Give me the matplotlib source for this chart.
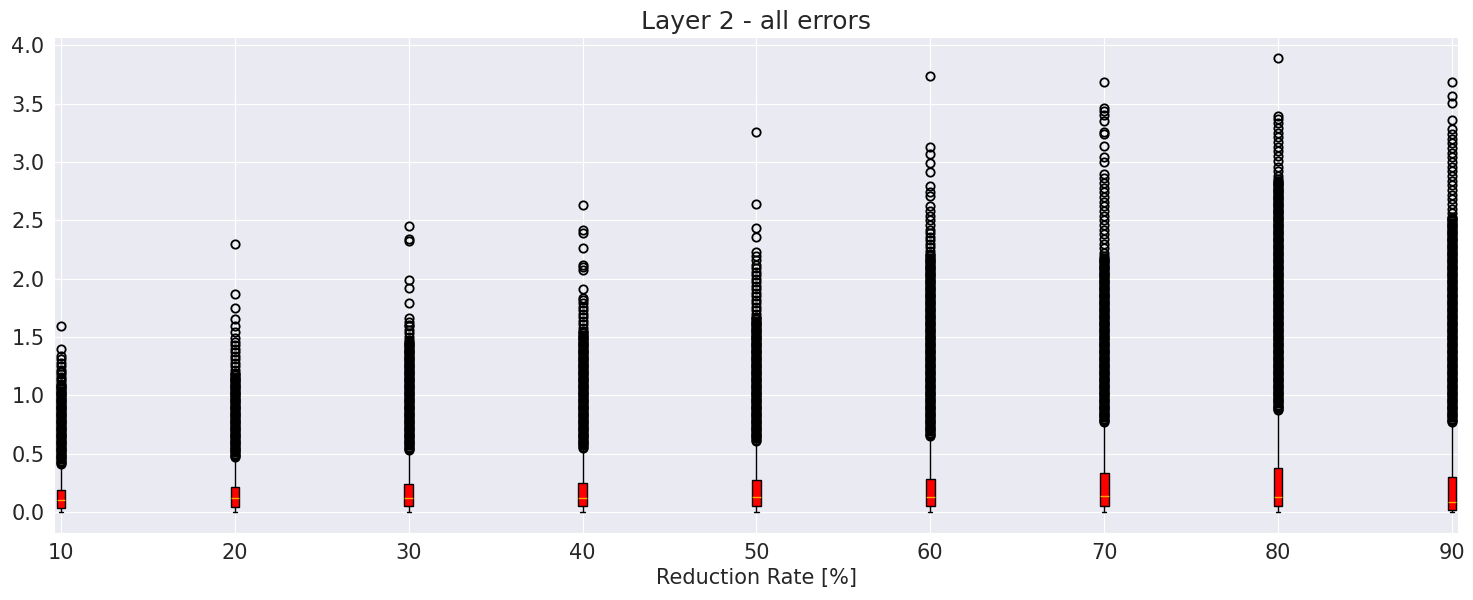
import matplotlib
matplotlib.use('Agg')
import matplotlib.pyplot as plt
import seaborn as sns

# ----------------------------
# Data
# ----------------------------
rates = [10, 20, 30, 40, 50, 60, 70, 80, 90]
q1 = [0.036, 0.040, 0.051, 0.046, 0.050, 0.051, 0.050, 0.051, 0.015]
medians = [0.10, 0.117, 0.12, 0.117, 0.126, 0.126, 0.137, 0.131, 0.08]
q3 = [0.185, 0.21, 0.24, 0.245, 0.27, 0.28, 0.33, 0.374, 0.30]
whis_lo = [0.0, 0.0, 0.0, 0.0, 0.0, 0.0, 0.0, 0.0, 0.0]
whis_hi = [0.40, 0.46, 0.52, 0.54, 0.60, 0.64, 0.76, 0.86, 0.76]

# fliers: the solid black bands are outliers at (about) every hundredth
fliers_10 = [0.41, 0.42, 0.43, 0.44, 0.45, 0.46, 0.47, 0.48, 0.49,
             0.50, 0.51, 0.52, 0.53, 0.54, 0.55, 0.56, 0.57, 0.58, 0.59,
             0.60, 0.61, 0.62, 0.63, 0.64, 0.65, 0.66, 0.67, 0.68, 0.69,
             0.70, 0.71, 0.72, 0.73, 0.74, 0.75, 0.76, 0.77, 0.78, 0.79,
             0.80, 0.81, 0.82, 0.83, 0.84, 0.85, 0.86, 0.87, 0.88, 0.89,
             0.90, 0.91, 0.92, 0.93, 0.94, 0.95, 0.96, 0.97, 0.98, 0.99,
             1.00, 1.01, 1.02, 1.03, 1.04, 1.05, 1.06, 1.07, 1.08, 1.09,
             1.10, 1.12, 1.14, 1.16, 1.18, 1.20, 1.22, 1.25, 1.28, 1.31,
             1.34, 1.40, 1.59]
fliers_20 = [0.47, 0.48, 0.49,
             0.50, 0.51, 0.52, 0.53, 0.54, 0.55, 0.56, 0.57, 0.58, 0.59,
             0.60, 0.61, 0.62, 0.63, 0.64, 0.65, 0.66, 0.67, 0.68, 0.69,
             0.70, 0.71, 0.72, 0.73, 0.74, 0.75, 0.76, 0.77, 0.78, 0.79,
             0.80, 0.81, 0.82, 0.83, 0.84, 0.85, 0.86, 0.87, 0.88, 0.89,
             0.90, 0.91, 0.92, 0.93, 0.94, 0.95, 0.96, 0.97, 0.98, 0.99,
             1.00, 1.01, 1.02, 1.03, 1.04, 1.05, 1.06, 1.07, 1.08, 1.09,
             1.10, 1.11, 1.12, 1.13, 1.14, 1.15, 1.16, 1.17, 1.18, 1.19,
             1.22, 1.25, 1.28, 1.31, 1.34, 1.37, 1.40, 1.43, 1.46, 1.49,
             1.54, 1.59, 1.65, 1.75, 1.87, 2.30]
fliers_30 = [0.53, 0.54, 0.55, 0.56, 0.57, 0.58, 0.59,
             0.60, 0.61, 0.62, 0.63, 0.64, 0.65, 0.66, 0.67, 0.68, 0.69,
             0.70, 0.71, 0.72, 0.73, 0.74, 0.75, 0.76, 0.77, 0.78, 0.79,
             0.80, 0.81, 0.82, 0.83, 0.84, 0.85, 0.86, 0.87, 0.88, 0.89,
             0.90, 0.91, 0.92, 0.93, 0.94, 0.95, 0.96, 0.97, 0.98, 0.99,
             1.00, 1.01, 1.02, 1.03, 1.04, 1.05, 1.06, 1.07, 1.08, 1.09,
             1.10, 1.11, 1.12, 1.13, 1.14, 1.15, 1.16, 1.17, 1.18, 1.19,
             1.20, 1.21, 1.22, 1.23, 1.24, 1.25, 1.26, 1.27, 1.28, 1.29,
             1.30, 1.31, 1.32, 1.33, 1.34, 1.35, 1.36, 1.37, 1.38, 1.39,
             1.40, 1.41, 1.42, 1.43, 1.44, 1.45, 1.46, 1.47,
             1.50, 1.53, 1.56, 1.59, 1.60, 1.63, 1.66, 1.79, 1.92, 1.99,
             2.32, 2.34, 2.45]
fliers_40 = [0.55, 0.56, 0.57, 0.58, 0.59,
             0.60, 0.61, 0.62, 0.63, 0.64, 0.65, 0.66, 0.67, 0.68, 0.69,
             0.70, 0.71, 0.72, 0.73, 0.74, 0.75, 0.76, 0.77, 0.78, 0.79,
             0.80, 0.81, 0.82, 0.83, 0.84, 0.85, 0.86, 0.87, 0.88, 0.89,
             0.90, 0.91, 0.92, 0.93, 0.94, 0.95, 0.96, 0.97, 0.98, 0.99,
             1.00, 1.01, 1.02, 1.03, 1.04, 1.05, 1.06, 1.07, 1.08, 1.09,
             1.10, 1.11, 1.12, 1.13, 1.14, 1.15, 1.16, 1.17, 1.18, 1.19,
             1.20, 1.21, 1.22, 1.23, 1.24, 1.25, 1.26, 1.27, 1.28, 1.29,
             1.30, 1.31, 1.32, 1.33, 1.34, 1.35, 1.36, 1.37, 1.38, 1.39,
             1.40, 1.41, 1.42, 1.43, 1.44, 1.45, 1.46, 1.47, 1.48, 1.49,
             1.50, 1.51, 1.52, 1.53, 1.54, 1.55,
             1.58, 1.61, 1.64, 1.67, 1.70, 1.73, 1.76, 1.79, 1.82, 1.83,
             1.91, 2.07, 2.10, 2.12, 2.26, 2.39, 2.42, 2.63]
fliers_50 = [0.61, 0.62, 0.63, 0.64, 0.65, 0.66, 0.67, 0.68, 0.69,
             0.70, 0.71, 0.72, 0.73, 0.74, 0.75, 0.76, 0.77, 0.78, 0.79,
             0.80, 0.81, 0.82, 0.83, 0.84, 0.85, 0.86, 0.87, 0.88, 0.89,
             0.90, 0.91, 0.92, 0.93, 0.94, 0.95, 0.96, 0.97, 0.98, 0.99,
             1.00, 1.01, 1.02, 1.03, 1.04, 1.05, 1.06, 1.07, 1.08, 1.09,
             1.10, 1.11, 1.12, 1.13, 1.14, 1.15, 1.16, 1.17, 1.18, 1.19,
             1.20, 1.21, 1.22, 1.23, 1.24, 1.25, 1.26, 1.27, 1.28, 1.29,
             1.30, 1.31, 1.32, 1.33, 1.34, 1.35, 1.36, 1.37, 1.38, 1.39,
             1.40, 1.41, 1.42, 1.43, 1.44, 1.45, 1.46, 1.47, 1.48, 1.49,
             1.50, 1.51, 1.52, 1.53, 1.54, 1.55, 1.56, 1.57, 1.58, 1.59,
             1.60, 1.61, 1.62, 1.63, 1.64, 1.65, 1.66, 1.67,
             1.70, 1.73, 1.76, 1.79, 1.82, 1.85, 1.88, 1.91, 1.94, 1.97,
             2.00, 2.03, 2.06, 2.09, 2.12, 2.16, 2.19, 2.23, 2.36, 2.43,
             2.64, 3.26]
fliers_60 = [0.65, 0.66, 0.67, 0.68, 0.69,
             0.70, 0.71, 0.72, 0.73, 0.74, 0.75, 0.76, 0.77, 0.78, 0.79,
             0.80, 0.81, 0.82, 0.83, 0.84, 0.85, 0.86, 0.87, 0.88, 0.89,
             0.90, 0.91, 0.92, 0.93, 0.94, 0.95, 0.96, 0.97, 0.98, 0.99,
             1.00, 1.01, 1.02, 1.03, 1.04, 1.05, 1.06, 1.07, 1.08, 1.09,
             1.10, 1.11, 1.12, 1.13, 1.14, 1.15, 1.16, 1.17, 1.18, 1.19,
             1.20, 1.21, 1.22, 1.23, 1.24, 1.25, 1.26, 1.27, 1.28, 1.29,
             1.30, 1.31, 1.32, 1.33, 1.34, 1.35, 1.36, 1.37, 1.38, 1.39,
             1.40, 1.41, 1.42, 1.43, 1.44, 1.45, 1.46, 1.47, 1.48, 1.49,
             1.50, 1.51, 1.52, 1.53, 1.54, 1.55, 1.56, 1.57, 1.58, 1.59,
             1.60, 1.61, 1.62, 1.63, 1.64, 1.65, 1.66, 1.67, 1.68, 1.69,
             1.70, 1.71, 1.72, 1.73, 1.74, 1.75, 1.76, 1.77, 1.78, 1.79,
             1.80, 1.81, 1.82, 1.83, 1.84, 1.85, 1.86, 1.87, 1.88, 1.89,
             1.90, 1.91, 1.92, 1.93, 1.94, 1.95, 1.96, 1.97, 1.98, 1.99,
             2.00, 2.01, 2.02, 2.03, 2.04, 2.05, 2.06, 2.07, 2.08, 2.09,
             2.10, 2.11, 2.12, 2.13, 2.14, 2.15, 2.16, 2.17, 2.18, 2.19,
             2.20, 2.21,
             2.24, 2.27, 2.30, 2.33, 2.36, 2.39, 2.42, 2.46, 2.50, 2.54,
             2.58, 2.62, 2.71, 2.74, 2.79, 2.91, 2.99, 3.07, 3.13, 3.74]
fliers_70 = [0.77, 0.78, 0.79,
             0.80, 0.81, 0.82, 0.83, 0.84, 0.85, 0.86, 0.87, 0.88, 0.89,
             0.90, 0.91, 0.92, 0.93, 0.94, 0.95, 0.96, 0.97, 0.98, 0.99,
             1.00, 1.01, 1.02, 1.03, 1.04, 1.05, 1.06, 1.07, 1.08, 1.09,
             1.10, 1.11, 1.12, 1.13, 1.14, 1.15, 1.16, 1.17, 1.18, 1.19,
             1.20, 1.21, 1.22, 1.23, 1.24, 1.25, 1.26, 1.27, 1.28, 1.29,
             1.30, 1.31, 1.32, 1.33, 1.34, 1.35, 1.36, 1.37, 1.38, 1.39,
             1.40, 1.41, 1.42, 1.43, 1.44, 1.45, 1.46, 1.47, 1.48, 1.49,
             1.50, 1.51, 1.52, 1.53, 1.54, 1.55, 1.56, 1.57, 1.58, 1.59,
             1.60, 1.61, 1.62, 1.63, 1.64, 1.65, 1.66, 1.67, 1.68, 1.69,
             1.70, 1.71, 1.72, 1.73, 1.74, 1.75, 1.76, 1.77, 1.78, 1.79,
             1.80, 1.81, 1.82, 1.83, 1.84, 1.85, 1.86, 1.87, 1.88, 1.89,
             1.90, 1.91, 1.92, 1.93, 1.94, 1.95, 1.96, 1.97, 1.98, 1.99,
             2.00, 2.01, 2.02, 2.03, 2.04, 2.05, 2.06, 2.07, 2.08, 2.09,
             2.10, 2.11, 2.12, 2.13, 2.14, 2.15, 2.16, 2.17, 2.18, 2.19,
             2.22, 2.26, 2.30, 2.34, 2.38, 2.42, 2.46, 2.50, 2.54, 2.58,
             2.62, 2.66, 2.70, 2.74, 2.78, 2.82, 2.86, 2.90, 3.00, 3.04,
             3.14, 3.24, 3.26, 3.35, 3.40, 3.44, 3.46, 3.69]
fliers_80 = [0.87, 0.88, 0.89,
             0.90, 0.91, 0.92, 0.93, 0.94, 0.95, 0.96, 0.97, 0.98, 0.99,
             1.00, 1.01, 1.02, 1.03, 1.04, 1.05, 1.06, 1.07, 1.08, 1.09,
             1.10, 1.11, 1.12, 1.13, 1.14, 1.15, 1.16, 1.17, 1.18, 1.19,
             1.20, 1.21, 1.22, 1.23, 1.24, 1.25, 1.26, 1.27, 1.28, 1.29,
             1.30, 1.31, 1.32, 1.33, 1.34, 1.35, 1.36, 1.37, 1.38, 1.39,
             1.40, 1.41, 1.42, 1.43, 1.44, 1.45, 1.46, 1.47, 1.48, 1.49,
             1.50, 1.51, 1.52, 1.53, 1.54, 1.55, 1.56, 1.57, 1.58, 1.59,
             1.60, 1.61, 1.62, 1.63, 1.64, 1.65, 1.66, 1.67, 1.68, 1.69,
             1.70, 1.71, 1.72, 1.73, 1.74, 1.75, 1.76, 1.77, 1.78, 1.79,
             1.80, 1.81, 1.82, 1.83, 1.84, 1.85, 1.86, 1.87, 1.88, 1.89,
             1.90, 1.91, 1.92, 1.93, 1.94, 1.95, 1.96, 1.97, 1.98, 1.99,
             2.00, 2.01, 2.02, 2.03, 2.04, 2.05, 2.06, 2.07, 2.08, 2.09,
             2.10, 2.11, 2.12, 2.13, 2.14, 2.15, 2.16, 2.17, 2.18, 2.19,
             2.20, 2.21, 2.22, 2.23, 2.24, 2.25, 2.26, 2.27, 2.28, 2.29,
             2.30, 2.31, 2.32, 2.33, 2.34, 2.35, 2.36, 2.37, 2.38, 2.39,
             2.40, 2.41, 2.42, 2.43, 2.44, 2.45, 2.46, 2.47, 2.48, 2.49,
             2.50, 2.51, 2.52, 2.53, 2.54, 2.55, 2.56, 2.57, 2.58, 2.59,
             2.60, 2.61, 2.62, 2.63, 2.64, 2.65, 2.66, 2.67, 2.68, 2.69,
             2.70, 2.71, 2.72, 2.73, 2.74, 2.75, 2.76, 2.77, 2.78, 2.79,
             2.80, 2.81, 2.82, 2.83, 2.84, 2.85,
             2.88, 2.92, 2.96, 3.01, 3.05, 3.09, 3.13, 3.17, 3.21, 3.25,
             3.29, 3.33, 3.37, 3.39, 3.89]
fliers_90 = [0.77, 0.78, 0.79,
             0.80, 0.81, 0.82, 0.83, 0.84, 0.85, 0.86, 0.87, 0.88, 0.89,
             0.90, 0.91, 0.92, 0.93, 0.94, 0.95, 0.96, 0.97, 0.98, 0.99,
             1.00, 1.01, 1.02, 1.03, 1.04, 1.05, 1.06, 1.07, 1.08, 1.09,
             1.10, 1.11, 1.12, 1.13, 1.14, 1.15, 1.16, 1.17, 1.18, 1.19,
             1.20, 1.21, 1.22, 1.23, 1.24, 1.25, 1.26, 1.27, 1.28, 1.29,
             1.30, 1.31, 1.32, 1.33, 1.34, 1.35, 1.36, 1.37, 1.38, 1.39,
             1.40, 1.41, 1.42, 1.43, 1.44, 1.45, 1.46, 1.47, 1.48, 1.49,
             1.50, 1.51, 1.52, 1.53, 1.54, 1.55, 1.56, 1.57, 1.58, 1.59,
             1.60, 1.61, 1.62, 1.63, 1.64, 1.65, 1.66, 1.67, 1.68, 1.69,
             1.70, 1.71, 1.72, 1.73, 1.74, 1.75, 1.76, 1.77, 1.78, 1.79,
             1.80, 1.81, 1.82, 1.83, 1.84, 1.85, 1.86, 1.87, 1.88, 1.89,
             1.90, 1.91, 1.92, 1.93, 1.94, 1.95, 1.96, 1.97, 1.98, 1.99,
             2.00, 2.01, 2.02, 2.03, 2.04, 2.05, 2.06, 2.07, 2.08, 2.09,
             2.10, 2.11, 2.12, 2.13, 2.14, 2.15, 2.16, 2.17, 2.18, 2.19,
             2.20, 2.21, 2.22, 2.23, 2.24, 2.25, 2.26, 2.27, 2.28, 2.29,
             2.30, 2.31, 2.32, 2.33, 2.34, 2.35, 2.36, 2.37, 2.38, 2.39,
             2.40, 2.41, 2.42, 2.43, 2.44, 2.45, 2.46, 2.47, 2.48, 2.49,
             2.50, 2.51, 2.52, 2.53,
             2.56, 2.60, 2.64, 2.68, 2.72, 2.76, 2.80, 2.84, 2.88, 2.92,
             2.96, 3.00, 3.04, 3.08, 3.12, 3.16, 3.20, 3.24, 3.28, 3.36,
             3.51, 3.57, 3.69]

fliers = [fliers_10, fliers_20, fliers_30, fliers_40, fliers_50,
          fliers_60, fliers_70, fliers_80, fliers_90]

# ----------------------------
# Build box stats
# ----------------------------
stats = []
for i in range(len(rates)):
    stats.append({'med': medians[i], 'q1': q1[i], 'q3': q3[i],
                  'whislo': whis_lo[i], 'whishi': whis_hi[i],
                  'fliers': fliers[i]})

sns.set_style('darkgrid')
fig, ax = plt.subplots(figsize=(14.73, 6), dpi=100)
fig.subplots_adjust(left=0.0367, right=0.9898, top=0.938, bottom=0.112)

ax.bxp(stats, positions=rates, widths=0.5, patch_artist=True,
       boxprops=dict(facecolor='red', edgecolor='black', linewidth=1),
       medianprops=dict(color='orange', linewidth=1),
       whiskerprops=dict(color='black', linewidth=1),
       capprops=dict(color='black', linewidth=1),
       flierprops=dict(marker='o', markerfacecolor='none',
                       markeredgecolor='black', markersize=6,
                       markeredgewidth=1.3))

ax.set_xlim(9.6, 90.35)
ax.set_ylim(-0.18, 4.07)
ax.set_xticks(rates)
ax.set_xticklabels([str(r) for r in rates])
ax.tick_params(axis='both', labelsize=15)
ax.set_title('Layer 2 - all errors', fontsize=18)
ax.set_xlabel('Reduction Rate [%]', fontsize=15)

plt.savefig('out.png', dpi=100)
plt.close()
